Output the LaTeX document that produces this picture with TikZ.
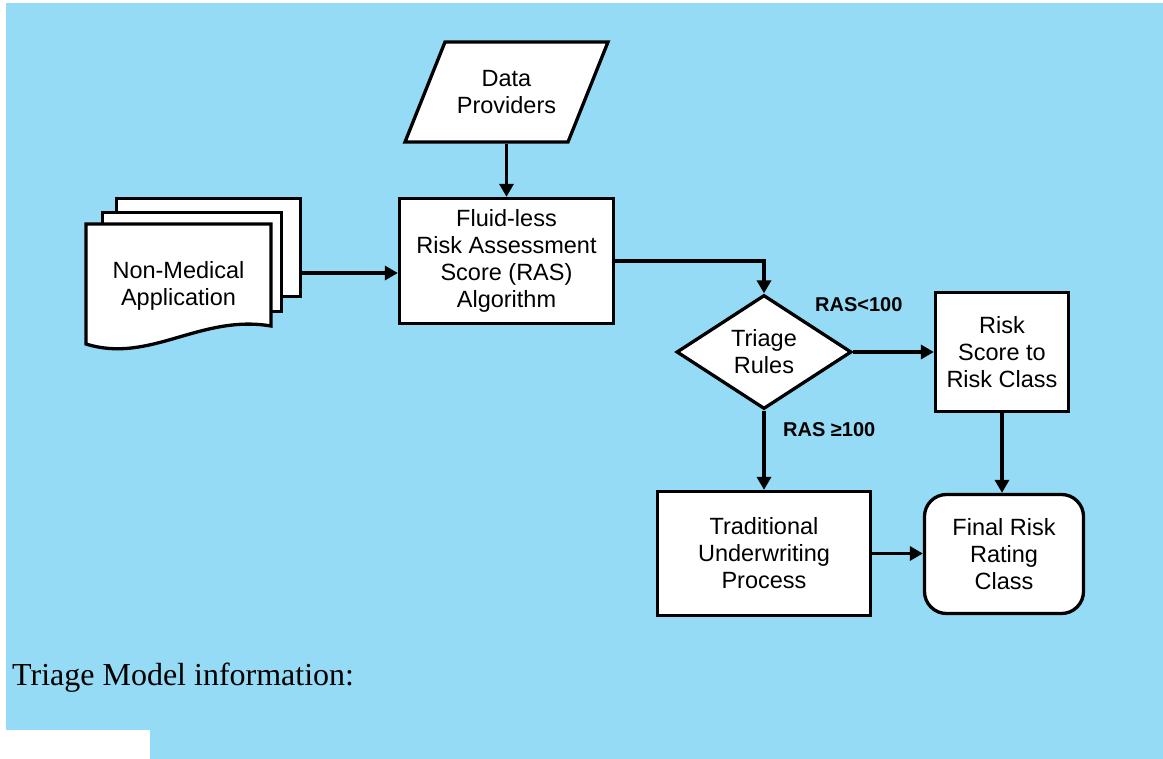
\documentclass[tikz,border=0pt]{standalone}
\usepackage{fontspec}
\setmainfont{Liberation Sans}
\newfontfamily\serifx{Liberation Serif}
\usetikzlibrary{shapes.geometric,arrows.meta,calc}
\definecolor{bgblue}{RGB}{149,219,245}
\begin{document}
\begin{tikzpicture}[x=1pt,y=-1pt,
  box/.style={draw,fill=white,line width=3.3pt,align=center,inner sep=0pt,font=\fontsize{23.5}{27}\selectfont},
  arr/.style={line width=3.3pt,-{Triangle[length=13pt,width=14pt]}},
  lbl/.style={inner sep=0pt,font=\fontsize{20}{22}\selectfont\bfseries}]
\useasboundingbox (0,0) rectangle (1163,759);
\fill[bgblue] (6,3) rectangle (1163,759);
\fill[white] (0,730) rectangle (150,759);
% data providers
\draw[line width=3.3pt,fill=white] (445,42) -- (608,42) -- (568,142) -- (405,142) -- cycle;
\node[box,draw=none,fill=none,minimum width=120pt,minimum height=100pt] (dp) at (506.5,92) {Data\\Providers};
% fluid-less
\node[box,minimum width=214pt,minimum height=125pt] (fl) at (506.5,261) {Fluid-less\\Risk Assessment\\Score (RAS)\\Algorithm};
% document stack
\node[box,minimum width=184pt,minimum height=98pt] (back) at (208.5,247.5) {};
\node[box,minimum width=179pt,minimum height=99pt] (mid) at (192,262) {};
\draw[line width=3.3pt,fill=white] (86,224) -- (271,224) -- (271,326) .. controls (200,314) and (150,364) .. (86,344) -- cycle;
\node[box,draw=none,fill=none] (nm) at (178.5,286) {Non-Medical\\Application};
% diamond
\node[box,shape=diamond,minimum width=175pt,minimum height=114pt] (tri) at (764,352) {Triage\\Rules};
\node[box,minimum width=133pt,minimum height=119pt] (rs) at (1002,352) {Risk\\Score to\\Risk Class};
\node[box,minimum width=213pt,minimum height=124pt] (tu) at (764,553.5) {Traditional\\Underwriting\\Process};
\node[box,rounded corners=22pt,minimum width=159pt,minimum height=119pt] (fr) at (1004,554) {Final Risk\\Rating\\Class};
% connectors
\coordinate (nmout) at ([yshift=-25.5pt]back.east);
\draw[arr] (dp.south) -- (fl.north);
\draw[arr] (nmout) -- (nmout -| fl.west);
\draw[arr] (fl.east) -| (tri.north);
\draw[arr] (tri.east) -- (rs.west);
\draw[arr] (tri.south) -- (tu.north);
\draw[arr] (tu.east) -- (tu.east -| fr.west);
\draw[arr] (rs.south) -- (rs.south |- fr.north);
% labels
\node[lbl,anchor=base west] (l1) at (815,312) {RAS<100};
\node[lbl,anchor=base west] (l2) at (783,437) {RAS ≥100};
\node[anchor=base west,inner sep=0pt,font=\serifx\fontsize{32}{36}\selectfont] (cap) at (12,685) {Triage Model information:};
\end{tikzpicture}
\end{document}
